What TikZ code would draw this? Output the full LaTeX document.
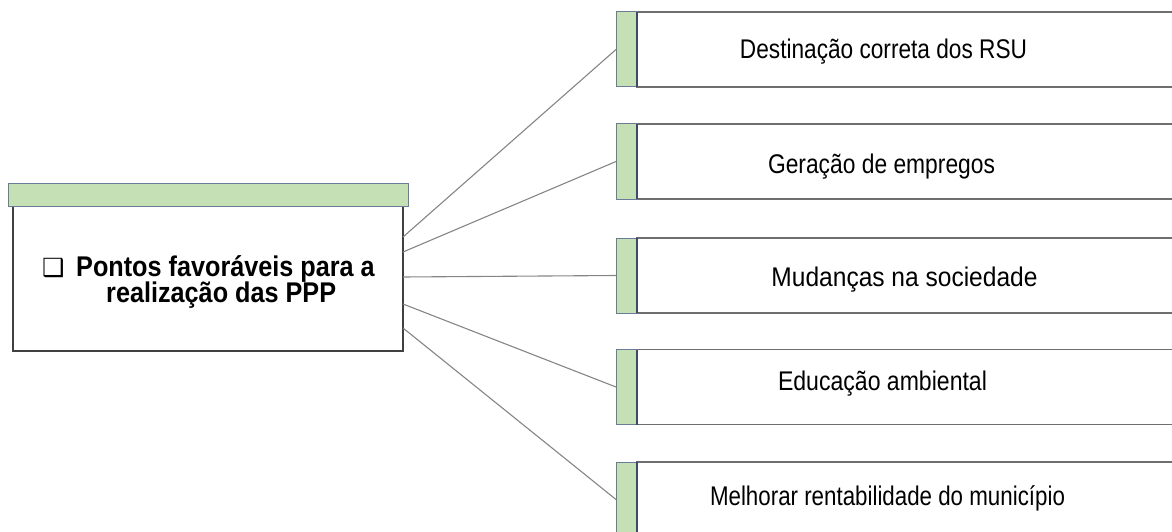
\documentclass[tikz,border=0pt]{standalone}
\usepackage{fontspec}
\setmainfont{Liberation Sans}
\newfontfamily\djv{DejaVu Sans}
\definecolor{lgreen}{HTML}{C5E0B4}
\definecolor{stripline}{HTML}{6A7B9C}
\definecolor{stripedge}{HTML}{3D4A6A}
\definecolor{boxline}{HTML}{6E6E6E}
\definecolor{mainline}{HTML}{404040}
\definecolor{conn}{HTML}{858585}
\begin{document}
\begin{tikzpicture}[x=1pt,y=-1pt,
  greenbar/.style={draw=stripline, fill=lgreen, line width=1pt, inner sep=0pt, outer sep=0pt},
  mainbox/.style={draw=mainline, fill=white, line width=1.3pt, inner sep=0pt, outer sep=0pt},
  itembox/.style={draw=boxline, fill=white, line width=1.7pt, inner sep=0pt, outer sep=0pt, minimum width=560pt, minimum height=75pt},
  strip/.style={greenbar, minimum width=21pt, minimum height=75pt},
  itemtext/.style={font=\fontsize{27}{27}\selectfont, inner sep=0pt, anchor=base},
  maintext/.style={font=\bfseries\fontsize{28.5}{28.5}\selectfont, inner sep=0pt, anchor=base west},
  connector/.style={draw=conn, line width=1.1pt}]
\useasboundingbox (0,0) rectangle (1172,532);
\clip (0,0) rectangle (1172,532);

% main box
\node[mainbox, minimum width=390pt, minimum height=145pt] (main) at (208,278.5) {};
\node[greenbar, minimum width=400pt, minimum height=23pt] (mhead) at (208,194.5) {};
\node[inner sep=0pt, anchor=base west] (bul) at (42,276.7) {\djv\fontsize{25}{25}\selectfont ❑};
\node[maintext] (m1) at (76,276.7) {\scalebox{0.885}[1]{Pontos favoráveis para a}};
\node[maintext] (m2) at (106,302.7) {\scalebox{0.885}[1]{realização das PPP}};

% item boxes
\foreach \i/\t in {1/12,2/124,3/238,4/349.5,5/462}{
  \node[itembox] (b\i) at (917,\t+37.5) {};
  \node[strip] (s\i) at (626.5,\t+37.5) {};
  \draw[stripedge, line width=1.2pt] (s\i.north east) -- (s\i.south east);
}

\node[itemtext] (t1) at (883.5,59) {\scalebox{0.839}[1]{Destinação correta dos RSU}};
\node[itemtext] (t2) at (881.5,173) {\scalebox{0.845}[1]{Geração de empregos}};
\node[itemtext] (t3) at (904.5,286) {\scalebox{0.909}[1]{Mudanças na sociedade}};
\node[itemtext] (t4) at (882.5,390) {\scalebox{0.854}[1]{Educação ambiental}};
\node[itemtext] (t5) at (887.5,505) {\scalebox{0.827}[1]{Melhorar rentabilidade do município}};

% connectors
\draw[connector] ([yshift=41.5pt]main.east) -- (s1.west);
\draw[connector] ([yshift=26.5pt]main.east) -- (s2.west);
\draw[connector] ([yshift=1.5pt]main.east) -- (s3.west);
\draw[connector] ([yshift=-25.5pt]main.east) -- (s4.west);
\draw[connector] ([yshift=-49.5pt]main.east) -- (s5.west);
\end{tikzpicture}
\end{document}
